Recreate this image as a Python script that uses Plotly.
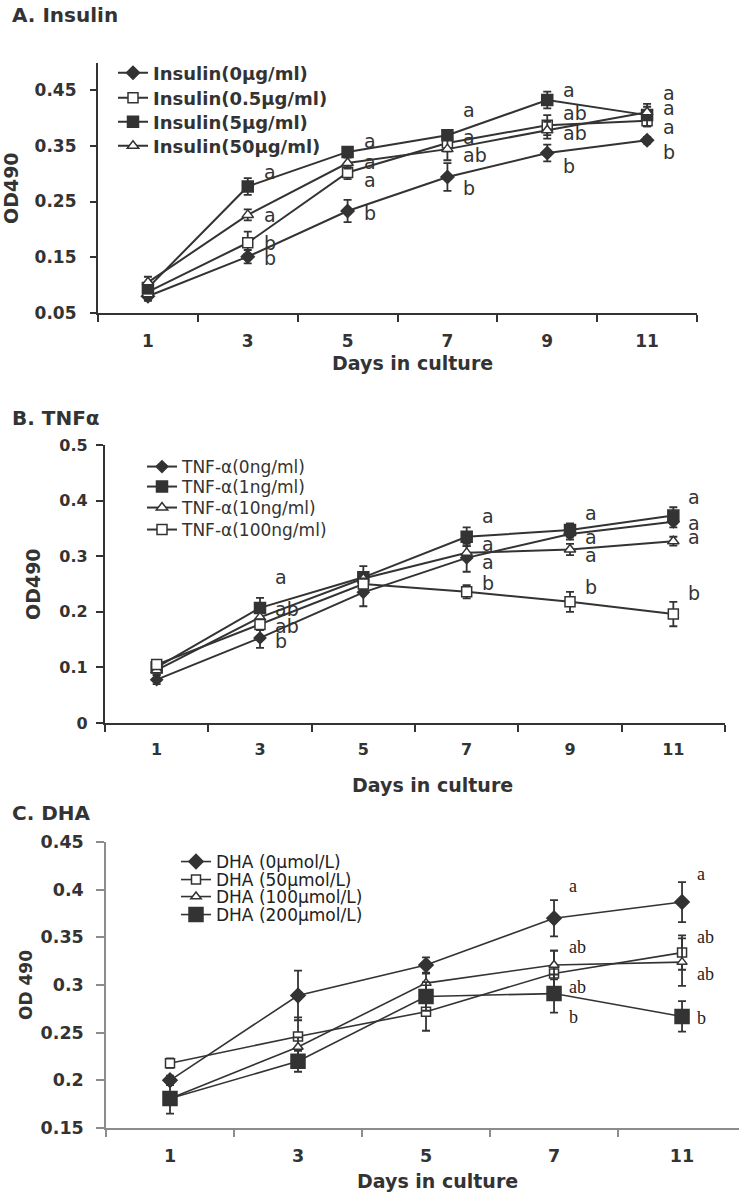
import plotly.graph_objects as go

W, H = 739, 1199

# ---------------- data ----------------
days_a = ["1", "3", "5", "7", "9", "11"]
ins_names = ["Insulin(0μg/ml)", "Insulin(0.5μg/ml)", "Insulin(5μg/ml)", "Insulin(50μg/ml)"]
ins0 = [0.080, 0.151, 0.233, 0.294, 0.337, 0.360]
ins05 = [0.088, 0.176, 0.302, 0.355, 0.387, 0.395]
ins5 = [0.095, 0.277, 0.339, 0.369, 0.432, 0.405]
ins50 = [0.105, 0.226, 0.319, 0.344, 0.378, 0.410]
ins0_err = [0.008, 0.012, 0.020, 0.025, 0.015, 0.006]
ins05_err = [0.008, 0.020, 0.012, 0.015, 0.018, 0.010]
ins5_err = [0.010, 0.015, 0.008, 0.008, 0.015, 0.020]
ins50_err = [0.010, 0.010, 0.010, 0.020, 0.015, 0.010]
# significance letters: (day, letter, y)
ins_letters = [
    ("3", "a", 0.303), ("3", "a", 0.226), ("3", "b", 0.175), ("3", "b", 0.149),
    ("5", "a", 0.359), ("5", "a", 0.321), ("5", "a", 0.288), ("5", "b", 0.229),
    ("7", "a", 0.414), ("7", "a", 0.366), ("7", "ab", 0.333), ("7", "b", 0.274),
    ("9", "a", 0.450), ("9", "ab", 0.409), ("9", "ab", 0.373), ("9", "b", 0.314),
    ("11", "a", 0.445), ("11", "a", 0.418), ("11", "a", 0.384), ("11", "b", 0.339),
]

days_b = ["1", "3", "5", "7", "9", "11"]
tnf_names = ["TNF-α(0ng/ml)", "TNF-α(1ng/ml)", "TNF-α(10ng/ml)", "TNF-α(100ng/ml)"]
tnf0 = [0.078, 0.153, 0.235, 0.297, 0.340, 0.362]
tnf1 = [0.100, 0.207, 0.262, 0.335, 0.347, 0.373]
tnf10 = [0.095, 0.190, 0.260, 0.306, 0.312, 0.327]
tnf100 = [0.105, 0.177, 0.250, 0.236, 0.218, 0.196]
tnf0_err = [0.008, 0.018, 0.025, 0.025, 0.010, 0.010]
tnf1_err = [0.008, 0.018, 0.020, 0.017, 0.012, 0.015]
tnf10_err = [0.008, 0.010, 0.010, 0.012, 0.010, 0.008]
tnf100_err = [0.008, 0.010, 0.010, 0.012, 0.018, 0.022]
tnf_letters = [
    ("3", "a", 0.262), ("3", "ab", 0.205), ("3", "ab", 0.175), ("3", "b", 0.147),
    ("7", "a", 0.373), ("7", "a", 0.322), ("7", "a", 0.290), ("7", "b", 0.252),
    ("9", "a", 0.378), ("9", "a", 0.335), ("9", "a", 0.303), ("9", "b", 0.245),
    ("11", "a", 0.407), ("11", "a", 0.360), ("11", "a", 0.335), ("11", "b", 0.234),
]

days_c = ["1", "3", "5", "7", "11"]
dha_names = ["DHA (0μmol/L)", "DHA (50μmol/L)", "DHA (100μmol/L)", "DHA (200μmol/L)"]
dha0 = [0.200, 0.289, 0.321, 0.370, 0.387]
dha50 = [0.218, 0.246, 0.272, 0.312, 0.334]
dha100 = [0.181, 0.235, 0.302, 0.321, 0.324]
dha200 = [0.181, 0.220, 0.288, 0.291, 0.267]
dha0_err = [0.005, 0.026, 0.008, 0.019, 0.021]
dha50_err = [0.005, 0.020, 0.020, 0.024, 0.018]
dha100_err = [0.005, 0.010, 0.010, 0.015, 0.025]
dha200_err = [0.016, 0.011, 0.015, 0.020, 0.016]
dha_letters = [
    ("7", "a", 0.404), ("7", "ab", 0.340), ("7", "ab", 0.298), ("7", "b", 0.266),
    ("11", "a", 0.416), ("11", "ab", 0.350), ("11", "ab", 0.312), ("11", "b", 0.265),
]

# ---------------- helpers ----------------
def px(x):
    return x / W

def py(y):
    return 1 - y / H

DARK = "#333333"
SANS = "DejaVu Sans"
fig = go.Figure()

leg_counter = [0]

def add_series(x, y, err, name, xa, ya, symbol, size, fill, lw, leg_pos, leg_font):
    leg_counter[0] += 1
    key = "legend" if leg_counter[0] == 1 else f"legend{leg_counter[0]}"
    fig.add_trace(go.Scatter(
        x=x, y=y, name=name, mode="lines+markers",
        xaxis=xa, yaxis=ya, legend=key,
        line=dict(color=DARK, width=lw),
        marker=dict(symbol=symbol, size=size, color=fill,
                    line=dict(color=DARK, width=1.5)),
        error_y=dict(type="data", array=err, color=DARK, thickness=1.8, width=4),
    ))
    fig.update_layout({key: dict(
        x=px(leg_pos[0]), y=py(leg_pos[1]), xanchor="left", yanchor="middle",
        bgcolor="rgba(0,0,0,0)", borderwidth=0, font=leg_font,
    )})

# Panel A
fA = dict(family=SANS, size=18, color=DARK, weight="bold")
a_series = [
    (ins0, ins0_err, "diamond", 10, DARK),
    (ins05, ins05_err, "square", 10, "white"),
    (ins5, ins5_err, "square", 11, DARK),
    (ins50, ins50_err, "triangle-up", 10, "white"),
]
a_leg_y = [73, 98, 122, 146]
for (vals, err, sym, sz, fill), nm, ly in zip(a_series, ins_names, a_leg_y):
    add_series(days_a, vals, err, nm, "x", "y", sym, sz, fill, 2, (113, ly), fA)

# Panel B
fB = dict(family=SANS, size=17, color=DARK)
b_series = [
    (tnf0, tnf0_err, "diamond", 9, DARK),
    (tnf1, tnf1_err, "square", 11, DARK),
    (tnf10, tnf10_err, "triangle-up", 10, "white"),
    (tnf100, tnf100_err, "square", 10, "white"),
]
b_leg_y = [467, 487, 508, 530]
for (vals, err, sym, sz, fill), nm, ly in zip(b_series, tnf_names, b_leg_y):
    add_series(days_b, vals, err, nm, "x2", "y2", sym, sz, fill, 2, (142, ly), fB)

# Panel C
fC = dict(family=SANS, size=17, color="#222222")
c_series = [
    (dha0, dha0_err, "diamond", 11, DARK),
    (dha50, dha50_err, "square", 9, "white"),
    (dha100, dha100_err, "triangle-up", 9, "white"),
    (dha200, dha200_err, "square", 14, DARK),
]
c_leg_y = [862, 880, 897, 915]
for (vals, err, sym, sz, fill), nm, ly in zip(c_series, dha_names, c_leg_y):
    add_series(days_c, vals, err, nm, "x3", "y3", sym, sz, fill, 1.6, (176, ly), fC)

# ---------------- axes ----------------
tickA = dict(family=SANS, size=17, color=DARK, weight="bold")
tickB = dict(family=SANS, size=16, color=DARK, weight="bold")
tickC = dict(family=SANS, size=17.5, color=DARK, weight="bold")

def xaxis(dom, rng, tf, color, lw, standoff, anchor):
    return dict(domain=dom, type="category", range=rng, anchor=anchor,
                showline=True, linecolor=color, linewidth=lw, showgrid=False,
                zeroline=False, ticks="outside", tickson="boundaries",
                ticklen=7, tickwidth=lw, tickcolor=color, tickfont=tf,
                ticklabelstandoff=standoff, fixedrange=True)

def yaxis(dom, rng, dtick, tick0, tf, color, lw, ticklen, standoff, anchor, fmt=None):
    d = dict(domain=dom, range=rng, dtick=dtick, tick0=tick0, anchor=anchor,
             showline=True, linecolor=color, linewidth=lw, showgrid=False,
             zeroline=False, ticks="outside", ticklen=ticklen, tickwidth=lw,
             tickcolor=color, tickfont=tf, ticklabelstandoff=standoff, fixedrange=True)
    if fmt:
        d["tickformat"] = fmt
    return d

fig.update_layout(
    xaxis=xaxis([px(98), px(697)], [-0.5, 5.5], tickA, DARK, 2.2, 11, "y"),
    yaxis=yaxis([py(313), py(63)], [0.05, 0.4985], 0.1, 0.05, tickA, DARK, 2.2, 6, 10, "x", ".2f"),
    xaxis2=xaxis([px(105), px(725)], [-0.5, 5.5], tickB, DARK, 2.2, 11, "y2"),
    yaxis2=yaxis([py(723), py(445)], [0, 0.5], 0.1, 0, tickB, DARK, 2.2, 7, 5, "x2"),
    xaxis3=xaxis([px(106), 1.0], [-0.5, 4.445], tickC, "#8c8c8c", 1.5, 11, "y3"),
    yaxis3=yaxis([py(1128), py(842)], [0.15, 0.45], 0.05, 0.15, tickC, "#8c8c8c", 1.5, 8, 9, "x3"),
)

# ---------------- annotations ----------------
ann = []
def text_ann(x, y, s, font, angle=0, xanchor="left"):
    ann.append(dict(x=px(x), y=py(y), xref="paper", yref="paper", text=s,
                    showarrow=False, font=font, textangle=angle,
                    xanchor=xanchor, yanchor="middle"))

titleF = dict(family=SANS, size=20, color=DARK, weight="bold")
text_ann(10, 15, "A. Insulin", titleF)
text_ann(10, 418, "B. TNFα", titleF)
text_ann(10, 813, "C. DHA", titleF)

xtF = dict(family=SANS, size=19, color=DARK, weight="bold")
text_ann(412, 363, "Days in culture", xtF, xanchor="center")
text_ann(432, 785, "Days in culture", xtF, xanchor="center")
text_ann(437, 1181, "Days in culture", xtF, xanchor="center")

text_ann(11, 188, "OD490", dict(family=SANS, size=19, color=DARK, weight="bold"), -90, "center")
text_ann(33, 584, "OD490", dict(family=SANS, size=19, color=DARK, weight="bold"), -90, "center")
text_ann(26, 985, "OD 490", dict(family=SANS, size=17, color=DARK, weight="bold"), -90, "center")

def letter_anns(letters, days, xref, yref, font, shift):
    for d, s, y in letters:
        ann.append(dict(x=days.index(d), y=y, xref=xref, yref=yref, text=s,
                        showarrow=False, font=font, xanchor="left",
                        yanchor="middle", xshift=shift))

letter_anns(ins_letters, days_a, "x", "y", dict(family=SANS, size=19, color=DARK), 14)
letter_anns(tnf_letters, days_b, "x2", "y2", dict(family=SANS, size=19, color=DARK), 13)
letter_anns(dha_letters, days_c, "x3", "y3",
            dict(family="Liberation Serif", size=18, color="#222222"), 13)

fig.update_layout(
    annotations=ann,
    width=W, height=H,
    margin=dict(l=0, r=0, t=0, b=0, autoexpand=False),
    paper_bgcolor="white", plot_bgcolor="white",
    showlegend=True,
)

fig.write_html("out.html", config={"displayModeBar": False},
               post_script="document.body.style.margin='0';")
